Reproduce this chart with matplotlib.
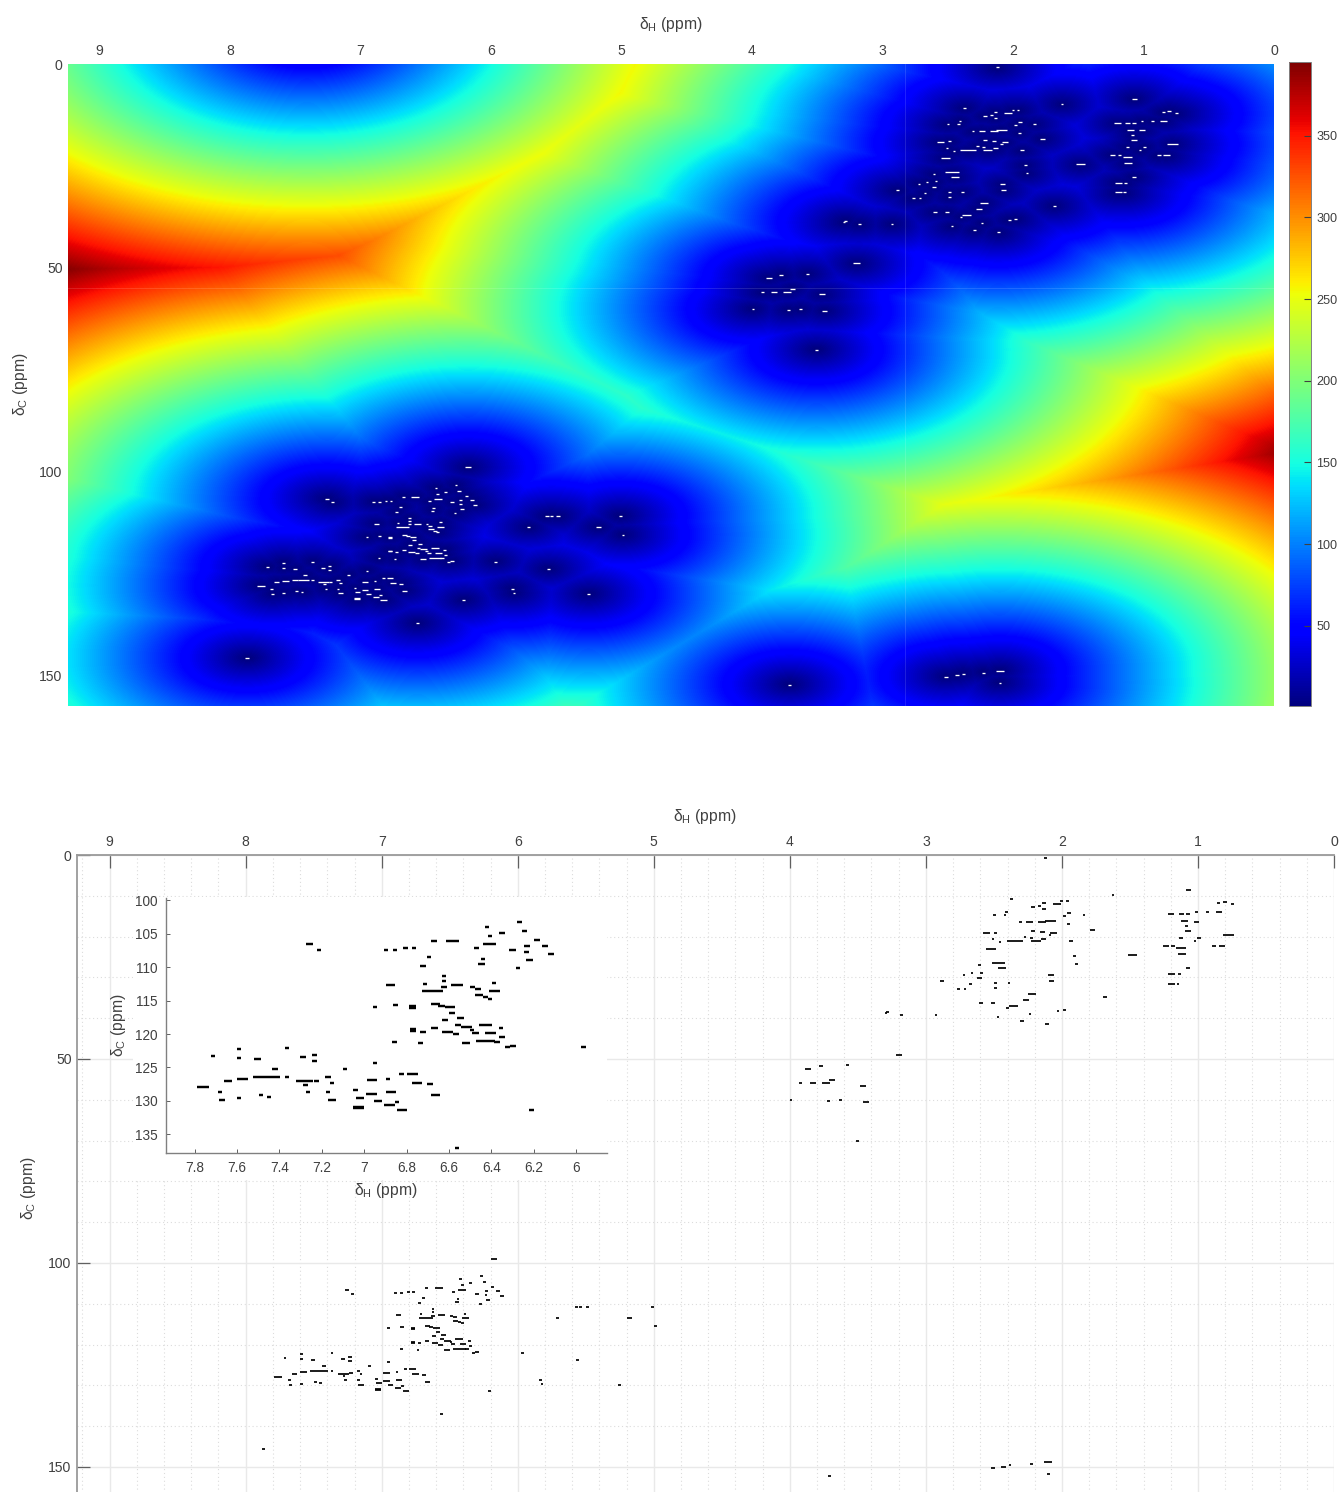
import numpy as np
import matplotlib
matplotlib.use("Agg")
import matplotlib.pyplot as plt
from matplotlib.patches import Rectangle
from matplotlib.ticker import MultipleLocator

plt.rcParams['font.family'] = ['Liberation Sans', 'DejaVu Sans']
plt.rcParams['mathtext.fontset'] = 'custom'
plt.rcParams['mathtext.rm'] = 'Liberation Sans'
plt.rcParams['mathtext.it'] = 'Liberation Sans'
plt.rcParams['mathtext.default'] = 'regular'

# ---- peak tables: delta-H (ppm), delta-C (ppm), peak width in delta-H (ppm)
olefinic_H = [6.421, 6.267, 6.245, 6.349, 6.407, 6.671, 6.582, 6.407, 6.184, 6.231, 6.148, 6.300, 6.234, 6.119,
              6.470, 7.258, 7.214, 6.898, 6.855, 6.805, 6.764, 6.693, 6.722, 6.439, 6.447, 6.220, 6.275, 6.623,
              6.623, 6.712, 6.877, 6.624, 6.561, 6.489, 6.464, 6.676, 6.388, 6.385, 6.459, 6.428, 6.407, 6.948,
              6.852, 6.772, 6.772, 6.664, 6.635, 6.596, 6.586, 6.546, 6.618, 6.770, 6.770, 6.668, 6.723, 6.608,
              6.568, 6.557, 6.517, 6.491, 6.475, 6.429, 6.403, 6.355, 6.349, 6.428, 6.374, 6.520, 6.325, 6.299,
              5.965, 6.857, 6.734, 6.563, 6.209]
olefinic_C = [104.0, 103.3, 104.6, 104.9, 105.4, 106.1, 106.1, 106.6, 105.9, 106.8, 106.9, 107.5, 107.8, 108.1,
              107.2, 106.6, 107.5, 107.4, 107.4, 107.2, 107.2, 108.5, 109.8, 108.8, 109.5, 109.0, 110.1, 111.3,
              112.1, 112.5, 112.7, 112.9, 112.7, 112.9, 113.3, 113.5, 112.4, 113.5, 114.1, 114.4, 114.8, 116.0,
              115.6, 115.85, 116.15, 115.5, 115.8, 116.0, 116.8, 117.6, 117.9, 119.3, 119.5, 119.1, 119.7, 119.7,
              120.0, 118.7, 119.0, 119.4, 119.9, 118.7, 119.9, 119.1, 120.4, 121.0, 121.2, 121.4, 122.0, 121.8,
              122.0, 121.2, 121.3, 137.1, 131.4]
olefinic_W = [.02, .02, .025, .025, .02, .025, .06, .06, .025, .025, .03, .03, .02, .03,
              .02, .03, .02, .02, .02, .02, .02, .02, .025, .02, .03, .03, .02, .02,
              .02, .02, .04, .025, .055, .02, .03, .10, .02, .05, .04, .025, .02, .02,
              .025, .03, .03, .04, .03, .05, .03, .03, .03, .03, .03, .03, .025, .05,
              .03, .025, .05, .02, .03, .06, .05, .02, .025, .09, .03, .04, .025, .03,
              .025, .02, .02, .02, .025]

aromatic_H = [7.761, 7.712, 7.590, 7.590, 7.503, 7.366, 7.288, 7.234, 7.234, 7.421, 7.090, 6.948, 7.642, 7.574,
              7.502, 7.437, 7.366, 7.283, 7.277, 7.226, 7.171, 7.152, 7.679, 7.671, 7.590, 7.487, 7.448, 7.264,
              7.171, 7.151, 7.041, 7.019, 7.027, 7.027, 6.964, 6.965, 6.936, 6.888, 6.873, 6.880, 6.846, 6.822,
              6.825, 6.772, 6.750, 6.689, 6.664]
aromatic_C = [127.9, 123.3, 122.3, 123.6, 123.7, 122.1, 123.5, 123.1, 124.1, 125.3, 125.2, 124.3, 127.1, 126.8,
              126.5, 126.5, 126.5, 127.1, 127.6, 127.0, 126.4, 127.3, 128.6, 129.9, 129.6, 129.1, 129.4, 128.7,
              128.7, 129.8, 128.4, 129.5, 130.9, 131.1, 126.9, 129.0, 130.0, 126.8, 128.6, 130.6, 130.2, 131.4,
              126.0, 126.0, 127.3, 127.5, 129.1]
aromatic_W = [.06, .02, .02, .02, .03, .02, .03, .025, .025, .03, .02, .02, .04, .05,
              .05, .08, .02, .08, .02, .025, .025, .02, .02, .025, .02, .02, .02, .02,
              .02, .04, .02, .04, .05, .05, .05, .05, .04, .02, .05, .05, .02, .05,
              .025, .05, .05, .03, .04]

isolated_H = [6.175, 5.709, 5.570, 5.538, 5.486, 5.178, 5.009, 4.989, 5.560, 5.834, 5.822, 5.251, 7.868, 3.71,
              2.510, 2.430, 2.381, 2.226, 2.101, 2.099]
isolated_C = [98.9, 113.6, 110.9, 110.7, 110.9, 113.6, 110.8, 115.4, 123.8, 128.6, 129.7, 129.9, 145.7, 152.2,
              150.2, 149.9, 149.5, 149.2, 148.8, 151.7]
isolated_W = [.04, .025, .025, .025, .025, .04, .025, .02, .02, .02, .02, .025, .025, .025,
              .03, .035, .02, .02, .06, .02]

methine_H = [3.198, 3.869, 3.774, 3.575, 3.921, 3.830, 3.732, 3.690, 3.463, 3.992, 3.717, 3.627, 3.441, 3.504]
methine_C = [48.9, 52.4, 51.7, 51.4, 56.0, 56.0, 55.8, 55.1, 56.5, 60.0, 60.3, 60.1, 60.5, 70.0]
methine_W = [.05, .045, .03, .02, .02, .05, .06, .04, .04, .02, .025, .02, .04, .025]

aliphatic_H = [2.119, 2.369, 2.214, 2.165, 2.133, 2.133, 2.038, 2.001, 1.960, 1.622, 2.498, 2.418, 2.405, 1.982,
               1.947, 1.837, 2.305, 2.239, 2.148, 2.087, 1.950, 1.776, 2.555, 2.486, 2.212, 2.143, 2.062, 2.087,
               2.506, 2.452, 2.271, 2.224, 2.344, 2.192, 2.136, 1.933, 2.520, 1.906, 1.893, 1.482, 2.467, 2.604,
               2.442, 2.591, 2.660, 2.719, 2.606, 2.883, 2.080, 2.075, 2.486, 2.388, 2.486, 2.672, 2.709, 2.760,
               2.222, 2.263, 2.596, 2.506, 2.356, 2.398, 2.028, 1.982, 2.234, 2.467, 2.293, 2.109, 1.683, 2.925,
               3.177, 3.282, 3.294]
aliphatic_C = [0.8, 10.7, 12.7, 12.4, 11.8, 13.2, 11.9, 11.3, 11.3, 9.8, 14.8, 14.7, 13.9, 15.0,
               14.1, 14.7, 16.5, 16.4, 16.4, 16.1, 16.8, 18.3, 19.2, 19.0, 18.6, 18.8, 19.2, 19.7,
               20.6, 21.4, 20.1, 20.3, 21.2, 21.2, 20.7, 21.2, 23.0, 24.8, 26.7, 24.6, 26.5, 27.0,
               27.8, 28.8, 28.9, 29.3, 30.2, 30.9, 29.5, 30.9, 31.4, 31.4, 32.6, 31.6, 32.8, 32.9,
               34.0, 35.5, 36.3, 36.3, 37.0, 37.4, 38.2, 38.0, 39.0, 39.8, 40.6, 41.3, 34.7, 39.2,
               39.2, 38.4, 38.8]
aliphatic_W = [.02, .025, .025, .02, .025, .025, .06, .02, .02, .015, .02, .02, .02, .02,
               .025, .02, .02, .05, .06, .08, .025, .04, .05, .02, .03, .03, .05, .02,
               .02, .015, .02, .02, .12, .07, .04, .03, .07, .025, .02, .07, .10, .02,
               .06, .02, .02, .02, .03, .025, .04, .04, .02, .02, .02, .015, .015, .02,
               .06, .045, .03, .025, .07, .02, .02, .02, .015, .015, .025, .025, .025, .015,
               .02, .02, .02]

methyl_H = [1.070, 1.198, 1.120, 1.075, 1.012, 0.931, 0.845, 0.848, 0.801, 0.747, 1.100, 1.012, 1.083, 1.073,
            1.124, 0.992, 1.024, 0.777, 1.235, 1.183, 1.124, 1.120, 0.882, 0.823, 1.075, 1.193, 1.137, 1.193,
            1.146]
methyl_C = [8.5, 14.5, 14.5, 14.5, 14.0, 14.0, 13.9, 11.8, 11.5, 12.1, 16.1, 16.3, 17.4, 18.7,
            20.3, 20.3, 21.2, 19.6, 22.2, 22.2, 22.9, 24.3, 22.4, 22.4, 27.7, 29.1, 29.1, 31.5,
            31.5]
methyl_W = [.04, .05, .04, .03, .02, .02, .05, .025, .03, .025, .05, .04, .025, .045,
            .025, .025, .015, .08, .04, .025, .07, .06, .025, .05, .03, .05, .02, .05,
            .02]

# peak just above the plotted range: only felt through the distance map
offscale_H = [7.41]
offscale_C = [-7.5]

H_weight = 100.0
C_weight = 6.0

x_ticks_main = [9, 8, 7, 6, 5, 4, 3, 2, 1, 0]
y_ticks_main = [0, 50, 100, 150]
cbar_ticks = [50, 100, 150, 200, 250, 300, 350]
x_ticks_inset = [7.8, 7.6, 7.4, 7.2, 7, 6.8, 6.6, 6.4, 6.2, 6]
x_labels_inset = ['7.8', '7.6', '7.4', '7.2', '7', '6.8', '6.6', '6.4', '6.2', '6']
y_ticks_inset = [100, 105, 110, 115, 120, 125, 130, 135]

peak_H = np.array(olefinic_H + aromatic_H + isolated_H + methine_H + aliphatic_H + methyl_H)
peak_C = np.array(olefinic_C + aromatic_C + isolated_C + methine_C + aliphatic_C + methyl_C)
peak_W = np.array(olefinic_W + aromatic_W + isolated_W + methine_W + aliphatic_W + methyl_W)

W, H = 1339, 1492
fig = plt.figure(figsize=(W / 100, H / 100), dpi=100)
GRAY = '#404040'
FS = 10.1
DH = r'$\delta_{H}$ (ppm)'
DC = r'$\delta_{C}$ (ppm)'


def rect(l, t, r, b):
    return [l / W, 1 - b / H, (r - l) / W, (b - t) / H]


def ftext(x, y, s, **kw):
    fig.text(x / W, 1 - y / H, s, ha='center', va='center', color=GRAY, fontsize=11.3, **kw)


X_LEFT = 9.24
Y_BOTTOM = 157.4

# ---- distance map panel
ax1 = fig.add_axes(rect(68, 64, 1274, 706))
gx = np.linspace(X_LEFT, 0, 1206)
gy = np.linspace(0, Y_BOTTOM, 642)
all_H = np.concatenate([peak_H, offscale_H])
all_C = np.concatenate([peak_C, offscale_C])
dist2 = np.full((642, 1206), np.inf, dtype=np.float32)
for h, c in zip(all_H, all_C):
    dx = ((gx - h) * H_weight) ** 2
    dy = ((gy - c) * C_weight) ** 2
    dist2 = np.minimum(dist2, dy[:, None].astype(np.float32) + dx[None, :].astype(np.float32))
dist = np.sqrt(dist2)
im = ax1.imshow(dist, cmap='jet', vmin=1, vmax=395, aspect='auto',
                extent=[X_LEFT, 0, Y_BOTTOM, 0], interpolation='bilinear')
ax1.hlines(peak_C, peak_H - peak_W / 2, peak_H + peak_W / 2, color='white', lw=0.95, capstyle='butt')
ax1.axvline(2.83, color='white', lw=0.6, alpha=0.15)
ax1.axhline(55.0, color='white', lw=0.6, alpha=0.15)
ax1.set_xlim(X_LEFT, 0)
ax1.set_ylim(Y_BOTTOM, 0)
ax1.xaxis.tick_top()
ax1.set_xticks(x_ticks_main)
ax1.set_yticks(y_ticks_main)
ax1.tick_params(length=0, labelsize=FS, labelcolor=GRAY, pad=4.5)
ax1.tick_params(axis='y', pad=4)
for s in ax1.spines.values():
    s.set_visible(False)
ftext(671, 25, DH)
ftext(20, 384, DC, rotation=90)

cax = fig.add_axes(rect(1289, 62, 1311, 706))
cb = fig.colorbar(im, cax=cax)
cb.set_ticks(cbar_ticks)
cb.ax.tick_params(direction='in', length=5, width=0.8, color=GRAY, labelsize=9.1, labelcolor=GRAY, pad=4)
cb.outline.set_edgecolor('#808080')
cb.outline.set_linewidth(0.7)

# ---- peak map panel (runs past the bottom of the canvas)
ax2 = fig.add_axes(rect(77, 855, 1334, 855 + Y_BOTTOM * 4.08), zorder=1)
ax2.hlines(peak_C, peak_H - peak_W / 2, peak_H + peak_W / 2, color='black', lw=1.25, capstyle='butt', zorder=3)
ax2.set_xlim(X_LEFT, 0)
ax2.set_ylim(Y_BOTTOM, 0)
ax2.xaxis.tick_top()
ax2.set_xticks(x_ticks_main)
ax2.set_yticks(y_ticks_main)
ax2.xaxis.set_minor_locator(MultipleLocator(0.2))
ax2.yaxis.set_minor_locator(MultipleLocator(10))
ax2.set_axisbelow(True)
ax2.grid(which='major', color='#e9e9e9', lw=1.0, ls='-')
ax2.grid(which='minor', color='#dcdcdc', lw=0.8, ls=(0, (1, 2.5)))
ax2.tick_params(which='major', direction='in', length=9, width=0.9, color='#606060',
                labelsize=FS, labelcolor=GRAY, pad=4.5)
ax2.tick_params(axis='y', pad=4)
ax2.tick_params(which='minor', length=0)
ax2.spines['right'].set_visible(False)
ax2.spines['bottom'].set_visible(False)
for side in ('left', 'top'):
    ax2.spines[side].set_color('#9a9a9a')
    ax2.spines[side].set_linewidth(1.3)
ftext(705, 816, DH)
ftext(29, 1188, DC, rotation=90)

# white backing of the inset
fig.add_artist(Rectangle((133 / W, 1 - 1180 / H), (607 - 133) / W, (1180 - 897) / H,
                         transform=fig.transFigure, facecolor='white', edgecolor='none', zorder=2))

# ---- inset zoom on the aromatic region
ax3 = fig.add_axes(rect(165.7, 898, 607, 1153), zorder=3)
ax3.hlines(peak_C, peak_H - peak_W / 2, peak_H + peak_W / 2, color='black', lw=1.75, capstyle='butt')
ax3.set_xlim(7.937, 5.854)
ax3.set_ylim(137.8, 99.65)
ax3.set_xticks(x_ticks_inset, x_labels_inset)
ax3.set_yticks(y_ticks_inset)
ax3.tick_params(direction='in', length=3, width=0.7, color='#606060', labelsize=9.8, labelcolor=GRAY, pad=6)
ax3.spines['right'].set_visible(False)
ax3.spines['top'].set_visible(False)
for side in ('left', 'bottom'):
    ax3.spines[side].set_color('#808080')
    ax3.spines[side].set_linewidth(1.0)
ftext(386, 1190, DH, zorder=4)
ftext(118, 1025, DC, rotation=90, zorder=4)

fig.savefig('out.png', dpi=100, facecolor='white')
